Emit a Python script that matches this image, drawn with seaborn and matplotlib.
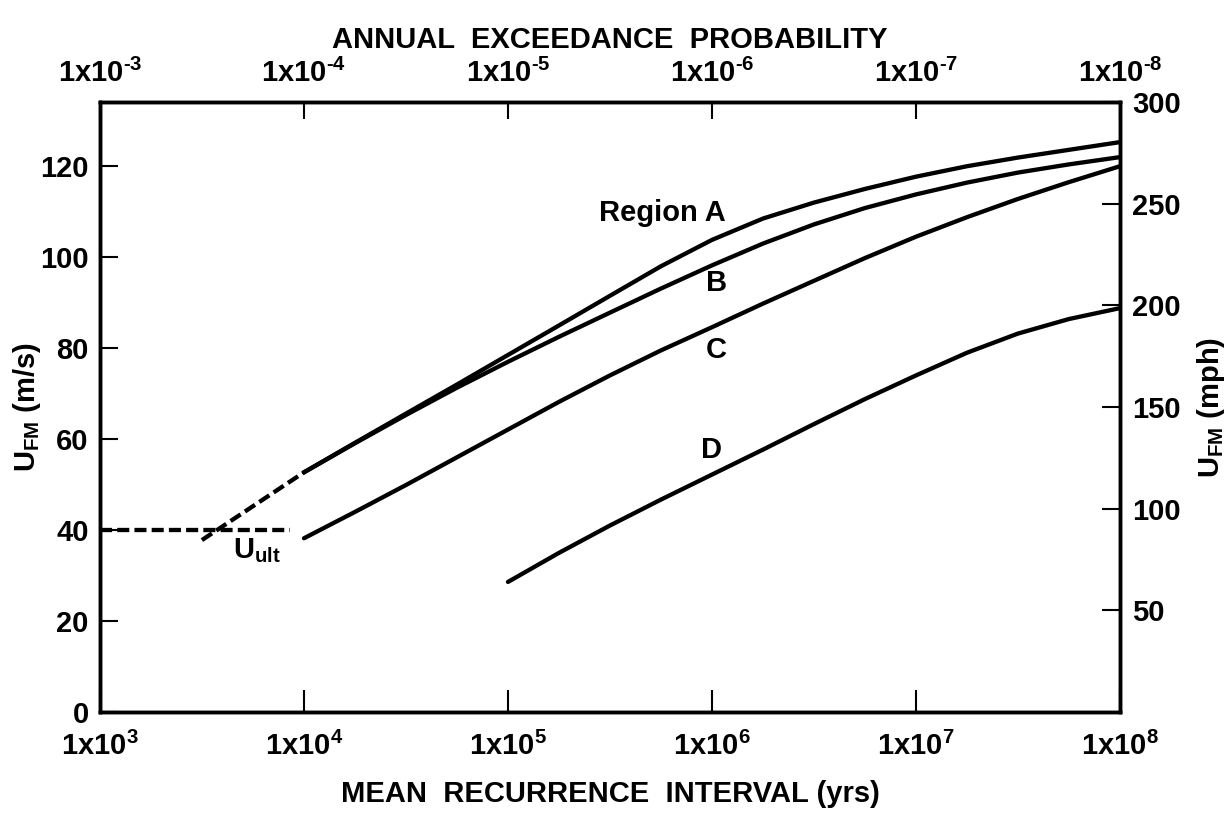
import numpy as np
import pandas as pd
import matplotlib
matplotlib.use("Agg")
import matplotlib.pyplot as plt
import seaborn as sns

# curve values (years, m/s)
years_A = [1e4, 1.78e4, 3.16e4, 5.62e4, 1e5, 1.78e5, 3.16e5, 5.62e5, 1e6, 1.78e6, 3.16e6,
           5.62e6, 1e7, 1.78e7, 3.16e7, 5.62e7, 1e8]
ufm_A = [52.7, 59.2, 65.6, 72.0, 78.5, 85.0, 91.5, 98.0, 103.8, 108.5, 112.0,
         115.0, 117.7, 120.0, 121.9, 123.6, 125.3]
years_B = years_A
ufm_B = [52.7, 59.1, 65.3, 71.3, 77.0, 82.5, 87.8, 93.1, 98.2, 103.0, 107.2,
         110.8, 113.8, 116.4, 118.6, 120.4, 122.0]
years_C = years_A
ufm_C = [38.2, 44.0, 49.9, 56.0, 62.1, 68.2, 74.0, 79.5, 84.6, 89.8, 94.8,
         99.8, 104.5, 108.8, 112.8, 116.5, 120.0]
years_D = [1e5, 1.78e5, 3.16e5, 5.62e5, 1e6, 1.78e6, 3.16e6, 5.62e6, 1e7, 1.78e7, 3.16e7, 5.62e7, 1e8]
ufm_D = [28.6, 35.0, 41.0, 46.7, 52.2, 57.7, 63.3, 68.8, 74.0, 79.0, 83.2, 86.4, 88.8]
years_ext = [3.16e3, 1e4]
ufm_ext = [37.8, 52.7]
years_ult = [1e3, 8.5e3]
ufm_ult = [40.0, 40.0]

HY = "\u2010"
x_ticks = [1e3, 1e4, 1e5, 1e6, 1e7, 1e8]
x_labels = [r'1x10$^{3}$', r'1x10$^{4}$', r'1x10$^{5}$', r'1x10$^{6}$', r'1x10$^{7}$', r'1x10$^{8}$']
p_ticks = [1e-3, 1e-4, 1e-5, 1e-6, 1e-7, 1e-8]
p_labels = ['1x10$^{' + HY + '3}$', '1x10$^{' + HY + '4}$', '1x10$^{' + HY + '5}$',
            '1x10$^{' + HY + '6}$', '1x10$^{' + HY + '7}$', '1x10$^{' + HY + '8}$']
ms_ticks = [0, 20, 40, 60, 80, 100, 120]
mph_ticks = [50, 100, 150, 200, 250, 300]
MPH_PER_MS = 2.23694
YMAX = 300 / MPH_PER_MS

sns.set_style("ticks")
plt.rcParams['font.family'] = ['Liberation Sans', 'DejaVu Sans']
plt.rcParams['font.weight'] = 'bold'
plt.rcParams['mathtext.fontset'] = 'custom'
plt.rcParams['mathtext.rm'] = 'Liberation Sans:bold'
plt.rcParams['mathtext.it'] = 'Liberation Sans:bold'
plt.rcParams['mathtext.bf'] = 'Liberation Sans:bold'
plt.rcParams['mathtext.default'] = 'rm'
plt.rcParams['text.color'] = 'black'
plt.rcParams['axes.labelcolor'] = 'black'
plt.rcParams['xtick.color'] = 'black'
plt.rcParams['ytick.color'] = 'black'
plt.rcParams['axes.edgecolor'] = 'black'

FS = 21
LW = 3.1

fig, ax = plt.subplots(figsize=(12.31, 8.13), dpi=100)
fig.subplots_adjust(left=0.0812, right=0.9098, top=0.8745, bottom=0.1242)

solid = pd.concat([
    pd.DataFrame({"years": years_A, "ufm": ufm_A, "curve": "A"}),
    pd.DataFrame({"years": years_B, "ufm": ufm_B, "curve": "B"}),
    pd.DataFrame({"years": years_C, "ufm": ufm_C, "curve": "C"}),
    pd.DataFrame({"years": years_D, "ufm": ufm_D, "curve": "D"}),
])
sns.lineplot(data=solid, x="years", y="ufm", units="curve", estimator=None,
             color="black", lw=LW, ax=ax, sort=False)

dashed = pd.concat([
    pd.DataFrame({"years": years_ext, "ufm": ufm_ext, "seg": "ext"}),
    pd.DataFrame({"years": years_ult, "ufm": ufm_ult, "seg": "ult"}),
])
sns.lineplot(data=dashed, x="years", y="ufm", units="seg", estimator=None,
             color="black", lw=LW, ax=ax, sort=False)
for ln in ax.lines[-2:]:
    ln.set_linestyle((0, (2.8, 1.2)))

ax.set_xscale("log")
ax.set_xlim(1e3, 1e8)
ax.set_ylim(0, YMAX)
ax.set_xticks(x_ticks)
ax.set_xticklabels(x_labels)
ax.xaxis.set_minor_locator(matplotlib.ticker.NullLocator())
ax.set_yticks(ms_ticks)
ax.tick_params(axis="x", direction="in", length=16, width=1.5, labelsize=FS, pad=14)
ax.tick_params(axis="y", direction="in", length=13, width=1.5, labelsize=FS, pad=8)
ax.set_xlabel("MEAN  RECURRENCE  INTERVAL (yrs)", fontsize=FS, fontweight="bold", labelpad=14)
ax.set_ylabel(r"U$_{\rm FM}$ (m/s)", fontsize=FS, fontweight="bold", labelpad=-2)

# right axis in mph
ax_r = ax.twinx()
ax_r.set_ylim(0, 300)
ax_r.set_yticks(mph_ticks)
ax_r.tick_params(axis="y", direction="in", length=13, width=1.5, labelsize=FS, pad=9)
ax_r.set_ylabel(r"U$_{\rm FM}$ (mph)", fontsize=FS, fontweight="bold", labelpad=10)

# top axis: annual exceedance probability
ax_t = ax.twiny()
ax_t.set_xscale("log")
ax_t.set_xlim(1e-3, 1e-8)
ax_t.set_xticks(p_ticks)
ax_t.set_xticklabels(p_labels)
ax_t.xaxis.set_minor_locator(matplotlib.ticker.NullLocator())
ax_t.tick_params(axis="x", direction="in", length=12, width=1.5, labelsize=FS, pad=10)
ax_t.set_xlabel("ANNUAL  EXCEEDANCE  PROBABILITY", fontsize=FS, fontweight="bold", labelpad=8)

for a in (ax, ax_r, ax_t):
    for sp in a.spines.values():
        sp.set_linewidth(2.4)
        sp.set_visible(True)

ax.text(1.17e6, 109.7, "Region A", fontsize=FS, fontweight="bold", ha="right", va="center")
ax.text(1.05e6, 94.3, "B", fontsize=FS, fontweight="bold", ha="center", va="center")
ax.text(1.05e6, 79.6, "C", fontsize=FS, fontweight="bold", ha="center", va="center")
ax.text(1.0e6, 57.5, "D", fontsize=FS, fontweight="bold", ha="center", va="center")
ax.text(5.9e3, 35.6, r"U$_{\rm ult}$", fontsize=FS, fontweight="bold", ha="center", va="center")

fig.savefig("out.png", dpi=100)
